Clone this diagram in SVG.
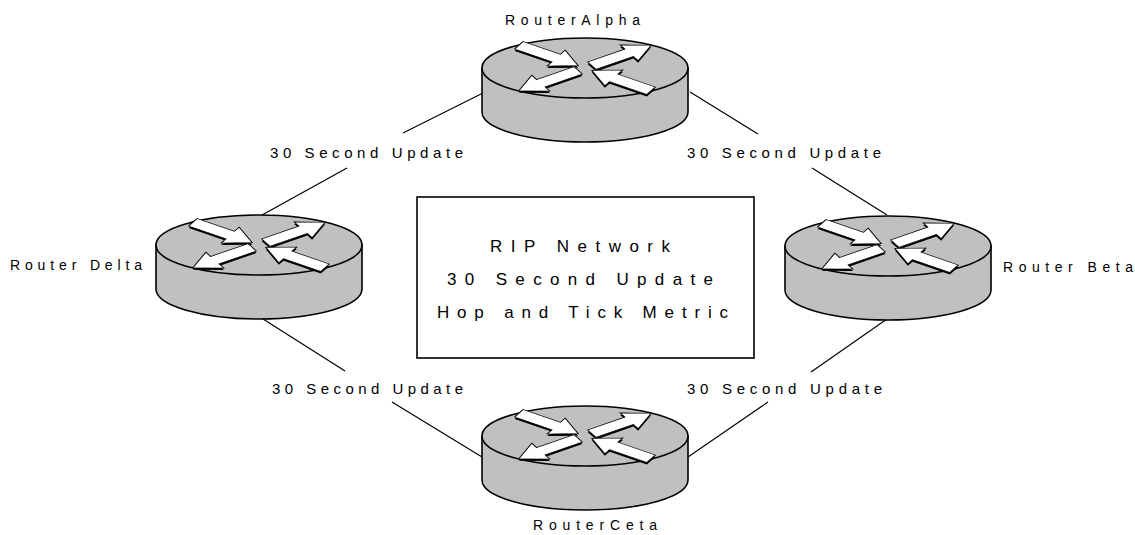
<svg xmlns="http://www.w3.org/2000/svg" xmlns:xlink="http://www.w3.org/1999/xlink" width="1135" height="535" viewBox="0 0 1135 535">
<style>
.lbl{font-family:"Liberation Sans",Arial,sans-serif;fill:#000}
.small{font-size:15px}
.name{font-size:14px}
.big{font-size:17px}
.conn{stroke:#000;stroke-width:1.2;fill:none}
.body{fill:#c0c0c0;stroke:#000;stroke-width:1.6}
.arr{fill:#fff;stroke:#000;stroke-width:1.2;stroke-linejoin:miter}
.shd{fill:#000}
</style>
<defs>
<polygon id="aout" points="8,-8 52,-8 52,-17 78,0 52,17 52,8 8,8"/>
<polygon id="ain" points="-78,-8 -34,-8 -34,-17 -8,0 -34,17 -34,8 -78,8"/>
<g id="arrows">
<g transform="scale(1,0.55)">
<use xlink:href="#ain" transform="rotate(32)"/>
<use xlink:href="#aout" transform="rotate(-32)"/>
<use xlink:href="#aout" transform="rotate(148)"/>
<use xlink:href="#ain" transform="rotate(-148)"/>
</g>
</g>
<g id="router">
<path class="body" d="M-103,0 L-103,44 A103,30 0 0 0 103,44 L103,0 Z"/>
<ellipse class="body" cx="0" cy="0" rx="103" ry="30"/>
<use xlink:href="#arrows" class="shd" transform="translate(0,2)"/>
<use xlink:href="#arrows" class="arr"/>
</g>
</defs>
<rect width="1135" height="535" fill="#fff"/>
<g id="connectors">
<line class="conn" x1="483" y1="93" x2="403" y2="133"/>
<line class="conn" x1="347" y1="168" x2="262" y2="215"/>
<line class="conn" x1="690" y1="92" x2="758" y2="134"/>
<line class="conn" x1="812" y1="168" x2="887" y2="215"/>
<line class="conn" x1="263" y1="319" x2="345" y2="371"/>
<line class="conn" x1="392" y1="402" x2="482" y2="457"/>
<line class="conn" x1="887" y1="319" x2="811" y2="372"/>
<line class="conn" x1="768" y1="402" x2="688" y2="457"/>
<text class="lbl small" x="270" y="158" textLength="193" lengthAdjust="spacing">30 Second Update</text>
<text class="lbl small" x="687" y="158" textLength="194" lengthAdjust="spacing">30 Second Update</text>
<text class="lbl small" x="272" y="394" textLength="191" lengthAdjust="spacing">30 Second Update</text>
<text class="lbl small" x="687" y="394" textLength="195" lengthAdjust="spacing">30 Second Update</text>
</g>
<g id="router-alpha">
<use xlink:href="#router" transform="translate(585,68)"/>
<text class="lbl name" x="505" y="25" textLength="135" lengthAdjust="spacing">RouterAlpha</text>
</g>
<g id="router-delta">
<use xlink:href="#router" transform="translate(259,245)"/>
<text class="lbl name" x="10" y="270" textLength="132" lengthAdjust="spacing">Router Delta</text>
</g>
<g id="router-beta">
<use xlink:href="#router" transform="translate(888,246)"/>
<text class="lbl name" x="1003" y="272" textLength="130" lengthAdjust="spacing">Router Beta</text>
</g>
<g id="router-ceta">
<use xlink:href="#router" transform="translate(585,436)"/>
<text class="lbl name" x="533" y="530" textLength="124" lengthAdjust="spacing">RouterCeta</text>
</g>
<g id="rip-box">
<rect x="417" y="197" width="337" height="161" fill="#fff" stroke="#000" stroke-width="1.6"/>
<text class="lbl big" x="490" y="252" textLength="180" lengthAdjust="spacing">RIP Network</text>
<text class="lbl big" x="447" y="285" textLength="266" lengthAdjust="spacing">30 Second Update</text>
<text class="lbl big" x="437" y="318" textLength="291" lengthAdjust="spacing">Hop and Tick Metric</text>
</g>
</svg>
